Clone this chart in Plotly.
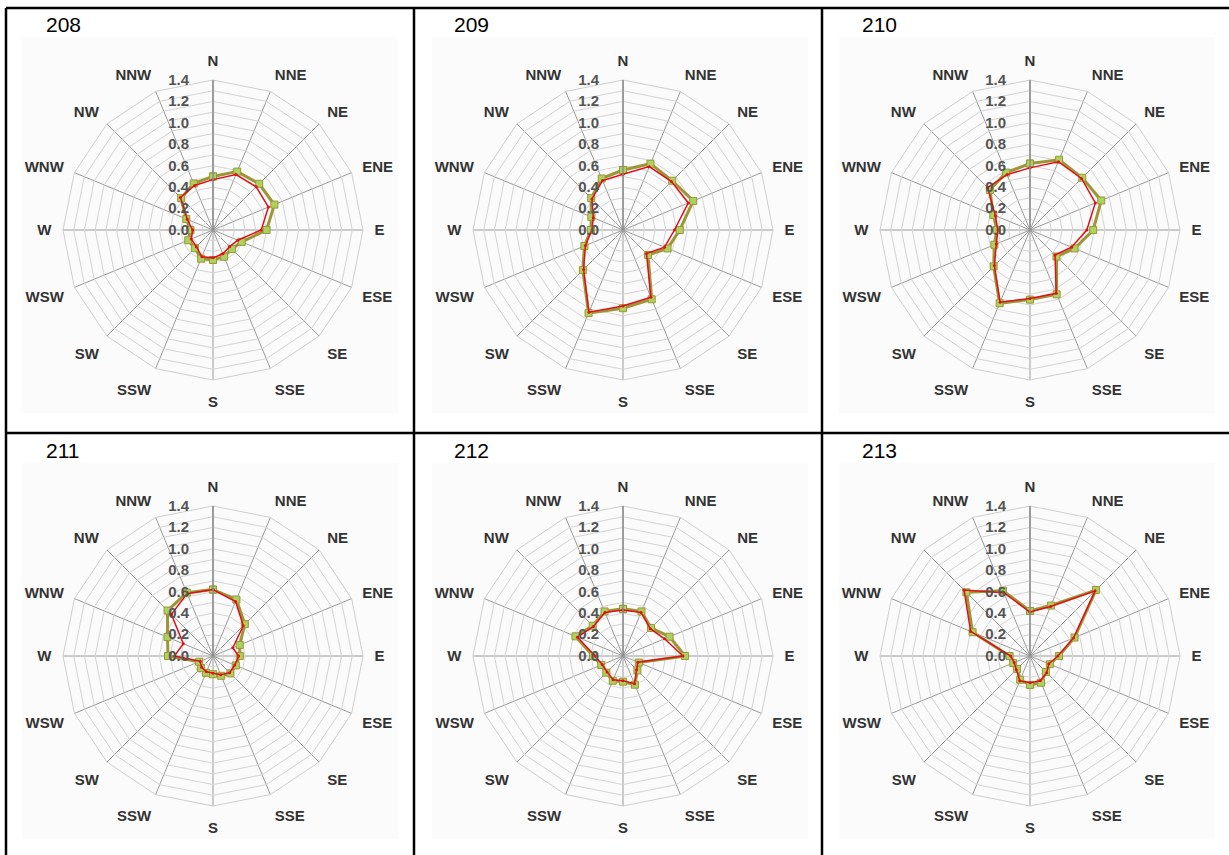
import plotly.graph_objects as go

# ---------------- data ----------------
directions = ["N", "NNE", "NE", "ENE", "E", "ESE", "SE", "SSE",
              "S", "SSW", "SW", "WSW", "W", "WNW", "NW", "NNW"]

panel_labels = ["208", "209", "210", "211", "212", "213"]

radial_tick_values = [0.0, 0.1, 0.2, 0.3, 0.4, 0.5, 0.6, 0.7,
                      0.8, 0.9, 1.0, 1.1, 1.2, 1.3, 1.4]
radial_tick_labels = ["0.0", "", "0.2", "", "0.4", "", "0.6", "",
                      "0.8", "", "1.0", "", "1.2", "", "1.4"]

green_208 = [0.50, 0.59, 0.61, 0.62, 0.50, 0.29, 0.25, 0.27, 0.28, 0.29, 0.24, 0.25, 0.21, 0.27, 0.42, 0.47]
red_208   = [0.47, 0.56, 0.57, 0.56, 0.45, 0.25, 0.22, 0.24, 0.26, 0.27, 0.22, 0.22, 0.19, 0.26, 0.43, 0.45]

green_209 = [0.56, 0.67, 0.65, 0.71, 0.53, 0.45, 0.33, 0.70, 0.73, 0.84, 0.53, 0.39, 0.30, 0.32, 0.42, 0.52]
red_209   = [0.52, 0.64, 0.64, 0.66, 0.48, 0.42, 0.31, 0.68, 0.71, 0.83, 0.52, 0.38, 0.29, 0.30, 0.41, 0.50]

green_210 = [0.62, 0.71, 0.69, 0.72, 0.59, 0.45, 0.35, 0.65, 0.65, 0.74, 0.48, 0.36, 0.31, 0.37, 0.53, 0.58]
red_210   = [0.58, 0.69, 0.68, 0.66, 0.53, 0.42, 0.33, 0.64, 0.64, 0.73, 0.47, 0.34, 0.30, 0.35, 0.56, 0.56]

green_211 = [0.62, 0.57, 0.42, 0.27, 0.25, 0.23, 0.23, 0.20, 0.17, 0.17, 0.16, 0.14, 0.42, 0.46, 0.60, 0.64]
red_211   = [0.62, 0.55, 0.40, 0.20, 0.24, 0.22, 0.22, 0.19, 0.16, 0.16, 0.15, 0.13, 0.36, 0.30, 0.55, 0.63]

green_212 = [0.44, 0.45, 0.37, 0.47, 0.58, 0.16, 0.19, 0.29, 0.24, 0.25, 0.22, 0.22, 0.28, 0.48, 0.40, 0.45]
red_212   = [0.43, 0.44, 0.36, 0.42, 0.56, 0.15, 0.18, 0.28, 0.23, 0.24, 0.21, 0.21, 0.26, 0.46, 0.39, 0.44]

green_213 = [0.42, 0.51, 0.87, 0.45, 0.27, 0.20, 0.21, 0.27, 0.27, 0.24, 0.17, 0.17, 0.19, 0.58, 0.84, 0.66]
red_213   = [0.41, 0.50, 0.86, 0.44, 0.26, 0.19, 0.22, 0.25, 0.25, 0.25, 0.18, 0.16, 0.18, 0.60, 0.87, 0.64]

green_series = [green_208, green_209, green_210, green_211, green_212, green_213]
red_series = [red_208, red_209, red_210, red_211, red_212, red_213]

# ---------------- layout constants ----------------
W, H = 1229, 855
centers = [(213, 230), (623, 230), (1030, 230), (213, 656), (623, 656), (1030, 656)]
R = 150  # pixel radius of the outer ring

OLIVE = "#9d9636"
GREEN = "#a9d35c"
RED = "#e0101a"
FONT = "Liberation Sans, Arial"

fig = go.Figure()


def closed(vals):
    return list(vals) + [vals[0]]


theta_closed = closed(directions)

for i in range(6):
    pname = "polar" if i == 0 else f"polar{i + 1}"
    fig.add_trace(go.Scatterpolar(
        r=closed(green_series[i]), theta=theta_closed, subplot=pname,
        mode="lines+markers",
        line=dict(color=OLIVE, width=3),
        marker=dict(symbol="square", size=7, color=GREEN,
                    line=dict(color=OLIVE, width=1)),
        showlegend=False, hoverinfo="skip"))
    fig.add_trace(go.Scatterpolar(
        r=closed(red_series[i]), theta=theta_closed, subplot=pname,
        mode="lines+markers",
        line=dict(color=RED, width=1.5),
        marker=dict(symbol="circle", size=3, color=RED),
        showlegend=False, hoverinfo="skip"))

    cx, cy = centers[i]
    dom_x = [(cx - R) / W, (cx + R) / W]
    dom_y = [(H - cy - R) / H, (H - cy + R) / H]
    fig.update_layout(**{pname: dict(
        domain=dict(x=dom_x, y=dom_y),
        bgcolor="rgba(0,0,0,0)",
        gridshape="linear",
        radialaxis=dict(
            range=[0, 1.4],
            tickvals=radial_tick_values,
            ticktext=radial_tick_labels,
            angle=90, tickangle=90,
            side="counterclockwise",
            showline=True, linecolor="#8c8c8c", linewidth=1.5,
            gridcolor="#d4d4d4", gridwidth=1,
            ticks="outside", ticklen=18, tickcolor="rgba(0,0,0,0)",
            tickfont=dict(family=FONT, size=15, color="#555555", weight="bold"),
        ),
        angularaxis=dict(
            type="category",
            categoryarray=directions,
            rotation=90, direction="clockwise",
            showline=True, linecolor="#cfcfcf", linewidth=1,
            gridcolor="#9a9a9a", gridwidth=1.3,
            ticks="outside", ticklen=8, tickcolor="rgba(0,0,0,0)",
            tickfont=dict(family=FONT, size=15, color="#333333", weight="bold"),
        ),
    )})

shapes = []
annotations = []
col_left = [6, 414, 822]
row_top = [8, 433]
for i in range(6):
    cx, cy = centers[i]
    x0 = cx - 191
    y0 = cy - 193
    shapes.append(dict(type="rect", xref="paper", yref="paper",
                       x0=x0 / W, x1=(x0 + 376) / W,
                       y0=1 - (y0 + 376) / H, y1=1 - y0 / H,
                       fillcolor="#fbfbfb", line=dict(width=0), layer="below"))
    lx = col_left[i % 3] + 38
    ly = row_top[i // 3] + 17
    annotations.append(dict(text=panel_labels[i], xref="paper", yref="paper",
                            x=lx / W, y=1 - ly / H, xanchor="left", yanchor="middle",
                            showarrow=False,
                            font=dict(family=FONT, size=21, color="#000")))

# table borders
border = dict(color="#000", width=2.5)
for yv in [8, 433]:
    shapes.append(dict(type="line", xref="paper", yref="paper", x0=6 / W, x1=1229 / W,
                       y0=1 - yv / H, y1=1 - yv / H, line=border))
for xv in [6, 414, 822]:
    shapes.append(dict(type="line", xref="paper", yref="paper", x0=xv / W, x1=xv / W,
                       y0=0, y1=1 - 8 / H, line=border))

fig.update_layout(
    width=W, height=H,
    margin=dict(l=0, r=0, t=0, b=0),
    paper_bgcolor="white",
    plot_bgcolor="white",
    shapes=shapes,
    annotations=annotations,
    showlegend=False,
)

fig.write_html("out.html", config={"displayModeBar": False},
               post_script="document.body.style.margin='0';")
